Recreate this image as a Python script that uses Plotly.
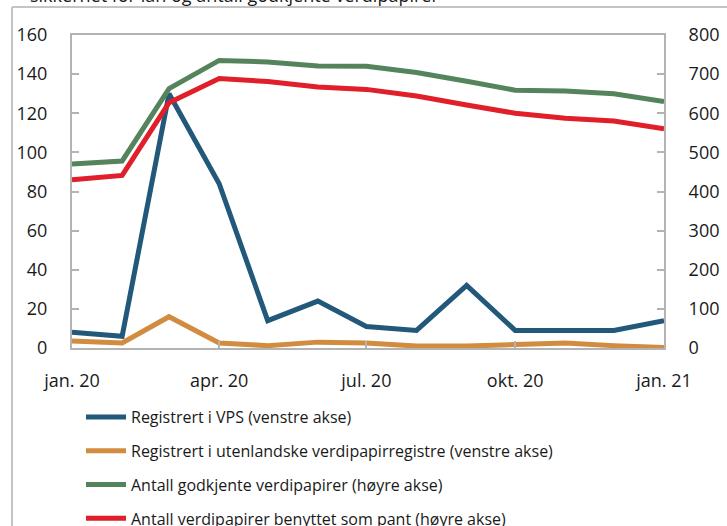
import plotly.graph_objects as go

# Månedlige observasjoner jan. 2020 - jan. 2021
months = ["2020-01-01", "2020-02-01", "2020-03-01", "2020-04-01", "2020-05-01",
          "2020-06-01", "2020-07-01", "2020-08-01", "2020-09-01", "2020-10-01",
          "2020-11-01", "2020-12-01", "2021-01-01"]

vps = [8, 6, 130, 84, 14, 24, 11, 9, 32, 9, 9, 9, 14]
utenlandske = [3.6, 2.6, 16, 2.6, 1.2, 3, 2.5, 1, 1, 1.8, 2.5, 1.2, 0.3]
godkjente = [470, 478, 663, 735, 731, 721, 720, 704, 682, 659, 657, 650, 630]
pant = [430, 441, 627, 689, 681, 667, 661, 644, 621, 600, 587, 580, 560]

tick_dates = ["2020-01-01", "2020-04-01", "2020-07-01", "2020-10-01", "2021-01-01"]
tick_text = ["jan. 20", "apr. 20", "jul. 20", "okt. 20", "jan. 21"]

COLORS = {
    "blue": "#22597a",
    "orange": "#d28c40",
    "green": "#55845c",
    "red": "#e01f2a",
    "axis": "#b3b3b3",
    "text": "#1a1a1a",
}
FONT = "Open Sans, Arial, sans-serif"

fig = go.Figure()
series = [
    ("Registrert i VPS (venstre akse)", vps, COLORS["blue"], "y"),
    ("Registrert i utenlandske verdipapirregistre (venstre akse)", utenlandske, COLORS["orange"], "y"),
    ("Antall godkjente verdipapirer (høyre akse)", godkjente, COLORS["green"], "y2"),
    ("Antall verdipapirer benyttet som pant (høyre akse)", pant, COLORS["red"], "y2"),
]
for i, (name, vals, col, ax) in enumerate(series):
    fig.add_trace(go.Scatter(x=months, y=vals, name=name, mode="lines", yaxis=ax,
                             legendgroup=f"g{i}", line=dict(color=col, width=5)))

# Rammen rundt figuren (delvis utenfor bildet)
W, H = 727, 526
ml, mr, mt, mb = 72, 63, 35, 178
pw, ph = W - ml - mr, H - mt - mb
px = lambda p: (p - ml) / pw
py = lambda p: (H - mb - p) / ph
fig.add_shape(type="line", xref="paper", yref="paper", x0=px(12), x1=px(12),
              y0=py(7), y1=py(600), line=dict(color="#c4c4c4", width=2))
fig.add_shape(type="line", xref="paper", yref="paper", x0=px(12), x1=px(800),
              y0=py(7), y1=py(7), line=dict(color="#c4c4c4", width=2))

fig.add_annotation(text="sikkerhet for lån og antall godkjente verdipapirer",
                   xref="paper", yref="paper", x=px(28), y=py(8.5),
                   xanchor="left", yanchor="bottom", showarrow=False,
                   font=dict(size=18, color=COLORS["text"], family=FONT))

axis_common = dict(showline=True, linecolor=COLORS["axis"], linewidth=2,
                   ticks="inside", ticklen=7, tickcolor=COLORS["axis"], tickwidth=2,
                   showgrid=False, zeroline=False, automargin=False,
                   tickfont=dict(size=18, color=COLORS["text"], family=FONT))

fig.update_layout(
    width=W, height=H,
    paper_bgcolor="white", plot_bgcolor="white",
    margin=dict(l=ml, r=mr, t=mt, b=mb, autoexpand=False),
    font=dict(family=FONT, color=COLORS["text"]),
    xaxis=dict(type="date", range=["2020-01-01", "2021-01-01"], tickvals=tick_dates,
               ticktext=tick_text, mirror=True, ticklabelstandoff=15, **axis_common),
    yaxis=dict(range=[0, 160], dtick=20, ticklabelstandoff=19, **axis_common),
    yaxis2=dict(range=[0, 800], dtick=100, overlaying="y", side="right",
                ticklabelstandoff=19, **axis_common),
    legend=dict(x=px(81), y=py(400), xanchor="left", yanchor="top",
                font=dict(size=16, color=COLORS["text"], family=FONT),
                bgcolor="rgba(0,0,0,0)", tracegroupgap=10, itemwidth=40),
    showlegend=True,
)

# siden skal fylle vinduet uten standardmarg rundt figuren
fig.write_html("out.html", config={"displayModeBar": False},
               post_script="document.body.style.margin='0';")
